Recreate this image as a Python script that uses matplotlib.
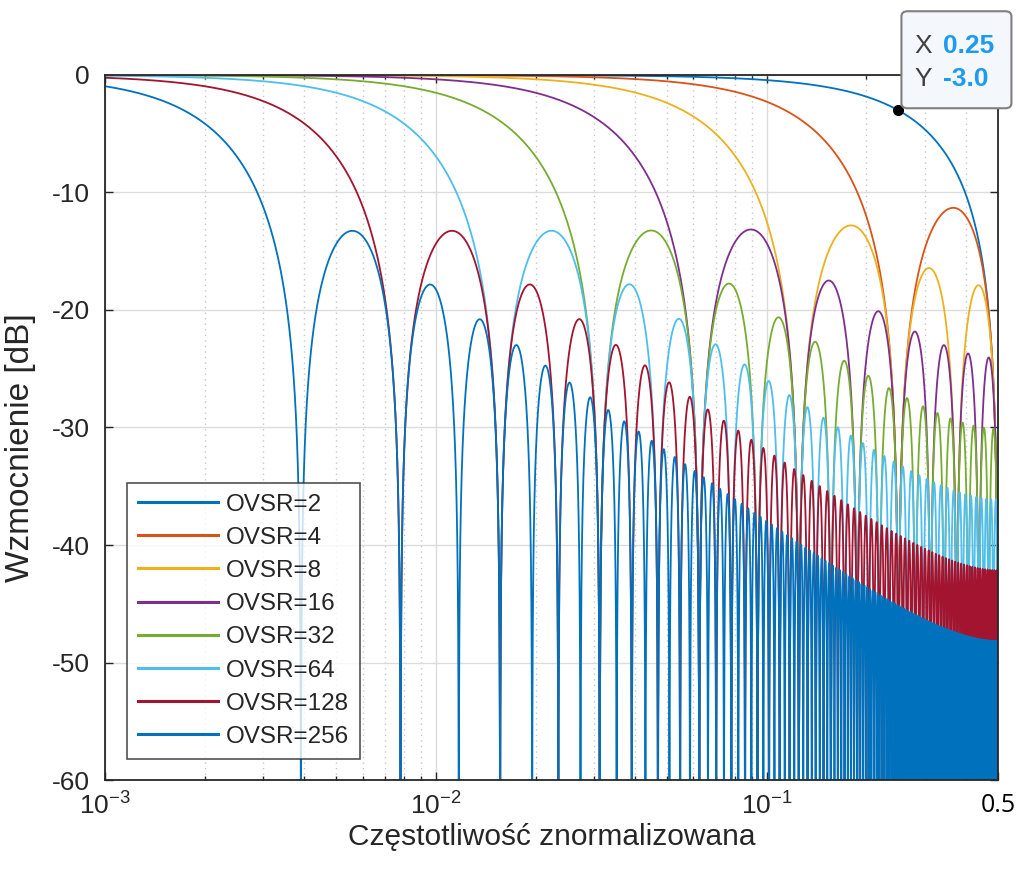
import numpy as np
import matplotlib
matplotlib.use("Agg")
from matplotlib import pyplot as plt
from matplotlib.patches import FancyBboxPatch
from matplotlib.ticker import FixedLocator, LogLocator, NullFormatter

# oversampling ratios (length of the averaging filter)
ovsr = [2, 4, 8, 16, 32, 64, 128, 256]
colors = ["#0072bd", "#d95319", "#edb120", "#7e2f8e",
          "#77ac30", "#4dbeee", "#a2142f", "#0072bd"]
xticks = [1e-3, 1e-2, 1e-1, 0.5]
xticklabels = ["$10^{-3}$", "$10^{-2}$", "$10^{-1}$", "0.5"]
yticks = [-60, -50, -40, -30, -20, -10, 0]
tip_x, tip_y = 0.25, -3.0

plt.rcParams["font.family"] = ["Liberation Sans", "DejaVu Sans"]
plt.rcParams["mathtext.fontset"] = "custom"
plt.rcParams["mathtext.rm"] = "Liberation Sans"
plt.rcParams["mathtext.it"] = "Liberation Sans"
plt.rcParams["axes.unicode_minus"] = False

f = np.logspace(-3, np.log10(0.5), 40000)

fig = plt.figure(figsize=(10.21, 8.72), dpi=100)
ax = fig.add_axes([0.103, 0.1055, 0.8745, 0.8085])

for n, c in zip(ovsr, colors):
    h = np.abs(np.sin(np.pi * f * n) / (n * np.sin(np.pi * f)))
    h = np.maximum(h, 1e-12)
    ax.plot(f, 20 * np.log10(h), color=c, lw=1.3, label="OVSR=%d" % n)

ax.set_xscale("log")
ax.set_xlim(1e-3, 0.5)
ax.set_ylim(-60, 0)

ax.xaxis.set_major_locator(FixedLocator(xticks))
ax.set_xticklabels(xticklabels)
ax.xaxis.set_minor_locator(LogLocator(base=10, subs=np.arange(2, 10)))
ax.xaxis.set_minor_formatter(NullFormatter())
ax.set_yticks(yticks)
ax.set_yticklabels([str(v) for v in yticks])

ax.tick_params(which="both", direction="in", top=True, right=True,
               colors="#262626", labelsize=19, width=1)
ax.tick_params(which="major", length=6)
ax.tick_params(which="minor", length=3)
ax.tick_params(axis="x", pad=9)
ax.tick_params(axis="y", pad=11)
for lbl in ax.get_xticklabels():
    if lbl.get_text() == "0.5":
        lbl.set_color("black")
        lbl.set_family(["Open Sans", "DejaVu Sans"])
        lbl.set_fontsize(18)
for s in ax.spines.values():
    s.set_color("#262626")
    s.set_linewidth(1.3)

ax.grid(True, which="major", color="#dcdcdc", lw=1)
ax.grid(True, which="minor", axis="x", color="#c8c8c8", ls=(0, (1, 3)), lw=1)
ax.set_axisbelow(True)

ax.set_xlabel("Częstotliwość znormalizowana", fontsize=21.5, color="#262626")
ax.xaxis.set_label_coords(0.5, -0.061)
ax.xaxis.label.set_va("top")
ax.set_ylabel("Wzmocnienie [dB]", fontsize=24, color="#262626")
ax.yaxis.set_label_coords(-0.078, 0.472)

leg = ax.legend(loc="lower left", bbox_to_anchor=(0.024, 0.03), fontsize=17.5,
                frameon=True, fancybox=False, edgecolor="#262626",
                handlelength=3.3, labelspacing=0.46, borderpad=0.45,
                handletextpad=0.35, borderaxespad=0)
leg.get_frame().set_linewidth(1.2)
for line in leg.get_lines():
    line.set_linewidth(2.2)
for t in leg.get_texts():
    t.set_color("#262626")

# data tip
ax.plot([tip_x], [tip_y], "o", color="black", ms=7, zorder=10, clip_on=False)
fig.canvas.draw()
px, py = ax.transData.transform((tip_x, tip_y))
fx, fy = fig.transFigure.inverted().transform((px + 3, py + 2))
bw, bh = 110 / 1021, 97 / 872
box = FancyBboxPatch((fx, fy), bw, bh, transform=fig.transFigure,
                     boxstyle="round,pad=0,rounding_size=0.006",
                     facecolor="#f4f7fb", edgecolor="#7f7f7f", lw=1.5,
                     zorder=20, clip_on=False)
fig.patches.append(box)
fig.text(fx + 0.013, fy + bh * 0.64, "X", fontsize=19, color="#404040",
         va="center", zorder=21)
fig.text(fx + 0.041, fy + bh * 0.64, "%.2f" % tip_x, fontsize=19,
         color="#1d9bf0", weight="bold", va="center", zorder=21)
fig.text(fx + 0.013, fy + bh * 0.30, "Y", fontsize=19, color="#404040",
         va="center", zorder=21)
fig.text(fx + 0.041, fy + bh * 0.30, "%.1f" % tip_y, fontsize=19,
         color="#1d9bf0", weight="bold", va="center", zorder=21)

plt.savefig("out.png", dpi=100)
